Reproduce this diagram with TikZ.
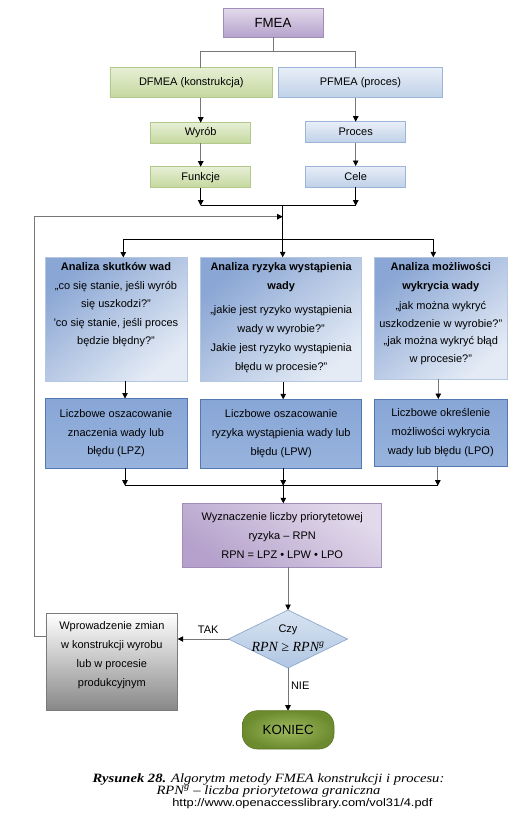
\documentclass[tikz,border=0pt]{standalone}
\usepackage{fontspec}
\setmainfont{Liberation Sans}
\newfontfamily\arial{Liberation Sans}
\newfontfamily\arialw{Liberation Sans}[FakeStretch=1.17]
\newfontfamily\tnr{Liberation Serif}
\newfontfamily\tnrw{Liberation Serif}[FakeStretch=1.15]
\usetikzlibrary{arrows.meta,calc,shapes.geometric}
\definecolor{purT}{HTML}{E2DAEB}
\definecolor{purB}{HTML}{B5A1CB}
\definecolor{purD}{HTML}{A08DB9}
\definecolor{grnT}{HTML}{E6EFD5}
\definecolor{grnB}{HTML}{C5D89E}
\definecolor{grnD}{HTML}{B3C98C}
\definecolor{bluT}{HTML}{E8EEF7}
\definecolor{bluB}{HTML}{BFD1E8}
\definecolor{bluD}{HTML}{9BB5D8}
\definecolor{anT}{HTML}{8AA6D4}
\definecolor{anB}{HTML}{E4EBF5}
\definecolor{anD}{HTML}{B4C6E0}
\definecolor{lcT}{HTML}{88A6D6}
\definecolor{lcM}{HTML}{4F7CBF}
\definecolor{lcB}{HTML}{97B3DD}
\definecolor{lcD}{HTML}{5379B2}
\definecolor{diaT}{HTML}{D8E3F1}
\definecolor{diaB}{HTML}{B0C6E2}
\definecolor{diaD}{HTML}{8DA8CF}
\definecolor{grB}{HTML}{888888}
\definecolor{grD}{HTML}{7A7A7A}
\definecolor{kIn}{HTML}{9EBC5E}
\definecolor{kOut}{HTML}{6C8A2E}
\definecolor{kD}{HTML}{5C7826}
\definecolor{lgray}{HTML}{777777}
\begin{document}
\begin{tikzpicture}[x=1pt,y=-1pt,
  every node/.style={inner sep=0pt, outer sep=0pt, font=\arial\fontsize{11}{18.5}\selectfont},
  base/.style={draw, line width=0.7pt, rectangle},
  purbox/.style={base, draw=purD, top color=purT, bottom color=purB},
  rpnbox/.style={base, draw=purD, top color=purT, bottom color=purB, shading angle=-35},
  grnbox/.style={base, draw=grnD, top color=grnT, bottom color=grnB},
  blubox/.style={base, draw=bluD, top color=bluT, bottom color=bluB},
  anbox/.style={base, draw=anD, top color=anT, bottom color=anB, shading angle=40},
  lcbox/.style={base, draw=lcD, top color=lcT, middle color=lcM, bottom color=lcB},
  grbox/.style={base, draw=grD, line width=0.9pt, top color=white, bottom color=grB},
  lnk/.style={line width=0.8pt, draw=black},
  glnk/.style={line width=0.8pt, draw=lgray},
  arr/.style={-{Triangle[width=5.5pt,length=5.5pt,color=black,fill=black]}}
]
\useasboundingbox (0,0) rectangle (525,819);

% top part
\node[purbox, minimum width=100pt, minimum height=29pt, font=\arial\fontsize{13.3}{16}\selectfont] (fmea) at (273,22.8) {FMEA};
\node[grnbox, minimum width=162.7pt, minimum height=30pt] (dfmea) at (191.3,82.7) {DFMEA (konstrukcja)};
\node[blubox, minimum width=164.4pt, minimum height=30pt] (pfmea) at (360.5,82.7) {PFMEA (proces)};
\node[grnbox, minimum width=100pt, minimum height=20.6pt] (wyrob) at (200.7,133) {Wyrób};
\node[grnbox, minimum width=100pt, minimum height=21pt] (funkcje) at (200.7,177.2) {Funkcje};
\node[blubox, minimum width=100pt, minimum height=20.8pt] (proces) at (355.7,132.1) {Proces};
\node[blubox, minimum width=100pt, minimum height=21pt] (cele) at (355.7,176.5) {Cele};

% analysis boxes
\node[anbox] (a1) at (116,319.25) {\parbox[c][123.5pt][t]{142pt}{\centering\rule{0pt}{13pt}\textbf{Analiza skutków wad}\\
„co się stanie, jeśli wyrób\\ się uszkodzi?”\\ 'co się stanie, jeśli proces\\ będzie błędny?”}};
\node[anbox] (a2) at (281.2,319.5) {\parbox[c][124.4pt][t]{161pt}{\centering\fontsize{11}{18.8}\selectfont\rule{0pt}{13.5pt}\textbf{Analiza ryzyka wystąpienia}\\ \textbf{wady}\\[5.5pt]
„jakie jest ryzyko wystąpienia\\ wady w wyrobie?”\\ Jakie jest ryzyko wystąpienia\\ błędu w procesie?”}};
\node[anbox] (a3) at (440.8,318.3) {\parbox[c][122pt][t]{133pt}{\centering\fontsize{11}{17.5}\selectfont\rule{0pt}{13pt}\textbf{Analiza możliwości}\\[1.8pt] \textbf{wykrycia wady}\\[2.5pt]
„jak można wykryć\\ uszkodzenie w wyrobie?”\\ „jak można wykryć błąd\\ w procesie?”}};

\node[lcbox] (b1) at (116,433.25) {\parbox[c][69.5pt][c]{142pt}{\centering\fontsize{11}{18.8}\selectfont Liczbowe oszacowanie\\ znaczenia wady lub\\ błędu (LPZ)}};
\node[lcbox] (b2) at (281.2,433.8) {\parbox[c][69pt][c]{161pt}{\centering\fontsize{11}{18.8}\selectfont Liczbowe oszacowanie\\ ryzyka wystąpienia wady lub\\ błędu (LPW)}};
\node[lcbox] (b3) at (440.8,432.85) {\parbox[c][67.7pt][c]{133pt}{\centering\fontsize{11}{18.8}\selectfont Liczbowe określenie\\ możliwości wykrycia\\ wady lub błędu (LPO)}};

\node[rpnbox] (rpn) at (282.2,535.3) {\parbox[c][64pt][c]{199pt}{\centering\fontsize{11}{19}\selectfont Wyznaczenie liczby priorytetowej\\ ryzyka – RPN\\ RPN = LPZ • LPW • LPO}};

\node[diamond, draw=diaD, line width=0.7pt, top color=diaT, bottom color=diaB, minimum width=119pt, minimum height=58pt] (dia) at (288,639)
  {\makebox[0pt]{\smash{\raisebox{-2pt}{\begin{tabular}[c]{@{}c@{}}Czy\\[1pt] {\tnr\itshape\fontsize{14}{16}\selectfont RPN ≥ RPN\textsuperscript{g}}\end{tabular}}}}};

\node[grbox] (zmiana) at (111.85,661.65) {\parbox[c][96.7pt][t]{131.7pt}{\centering\fontsize{11}{18.9}\selectfont\rule{0pt}{16pt}Wprowadzenie zmian\\ w konstrukcji wyrobu\\ lub w procesie\\ produkcyjnym}};

\node[draw=kD, line width=0.6pt, rounded corners=15pt, inner color=kIn, outer color=kOut, minimum width=91.7pt, minimum height=38.3pt, font=\arial\fontsize{13.3}{16}\selectfont] (koniec) at (288.15,729.85) {KONIEC};

% caption
\node[anchor=base, align=center, font=\tnrw\itshape\fontsize{12.7}{12}\selectfont] (cap1) at (268.5,794.3) {\textbf{Rysunek 28.} Algorytm metody FMEA konstrukcji i procesu:\\ RPN\textsuperscript{g} – liczba priorytetowa graniczna};
\node[anchor=base, font=\arialw\fontsize{11}{13}\selectfont] (cap3) at (302.4,806.7) {http://www.openaccesslibrary.com/vol31/4.pdf};

% connectors top
\coordinate (j1) at (273,51.7);
\draw[glnk] (fmea.south) -- (j1);
\draw[glnk] (dfmea.north -| wyrob.north) |- (j1) -| (pfmea.north -| proces.north);
\draw[glnk,arr] (dfmea.south -| wyrob.north) -- (wyrob.north);
\draw[glnk,arr] (wyrob.south) -- (funkcje.north);
\draw[glnk,arr] (pfmea.south -| proces.north) -- (proces.north);
\draw[glnk,arr] (proces.south) -- (cele.north);

\coordinate (j2) at (282.7,205.7);
\draw[lnk,arr] (funkcje.south) -- (funkcje.south |- j2);
\draw[lnk,arr] (cele.south) -- (cele.south |- j2);
\draw[lnk] (funkcje.south |- j2) -- (cele.south |- j2);
\draw[lnk,arr] (j2) -- (j2 |- a2.north);

% distribution
\coordinate (j3) at (282.7,239.3);
\coordinate (t1) at ($(a1.north)+(7.3,0)$);
\coordinate (t3) at ($(a3.north)+(-7.5,0)$);
\draw[lnk] (j3 -| t1) -- (j3 -| t3);
\draw[lnk,arr] (j3 -| t1) -- (t1);
\draw[lnk,arr] (j3 -| t3) -- (t3);

% analysis -> evaluation
\draw[lnk,arr] ($(a1.south)+(9,0)$) -- ($(b1.north)+(9,0)$);
\draw[lnk,arr] ($(a2.south)+(2,0)$) -- ($(b2.north)+(2,0)$);
\draw[glnk,arr] ($(a3.south)+(-2.5,0)$) -- ($(b3.north)+(-2.5,0)$);

% collect
\coordinate (j4) at (283.3,485.7);
\coordinate (s1) at ($(b1.south)+(9,0)$);
\coordinate (s2) at ($(b2.south)+(2,0)$);
\coordinate (s3) at ($(b3.south)+(-3,0)$);
\draw[lnk] (j4 -| s1) -- (j4 -| s3);
\draw[lnk,arr] (s1) -- (s1 |- j4);
\draw[lnk,arr] (s2) -- (s2 |- j4);
\draw[glnk,arr] (s3) -- (s3 |- j4);
\draw[lnk,arr] (j4) -- (j4 |- rpn.north);

% decision
\draw[glnk,arr] (dia.north |- rpn.south) -- (dia.north);
\draw[glnk,arr] (dia.west) -- node[pos=0.4, above=5.5pt] {TAK} (dia.west -| zmiana.east);
\draw[glnk,arr] (dia.south) -- node[pos=0.41, right=3pt] {NIE} (dia.south |- koniec.north);

% feedback
\coordinate (fb) at ($(zmiana.west)+(0,-25)$);
\coordinate (fbend) at (282.7,216.7);
\draw[glnk,arr] (fb) -- ++(-12,0) |- (fbend);
\end{tikzpicture}
\end{document}
